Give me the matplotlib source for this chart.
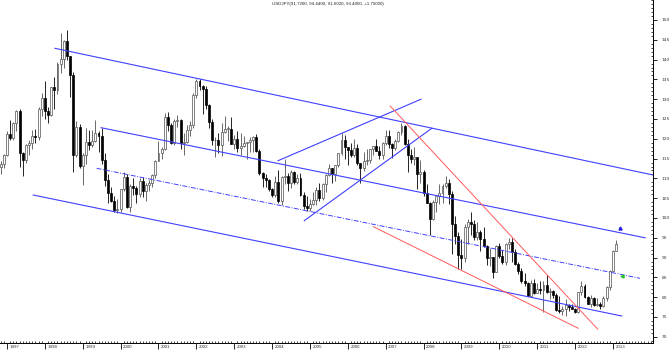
import numpy as np
import matplotlib
matplotlib.use('Agg')
import matplotlib.pyplot as plt
from matplotlib.ticker import MultipleLocator, FixedLocator, NullFormatter

# Monthly USD/JPY bars, Nov 1996 .. Feb 2013 (month 0 = Jan 1997)
first_month = -2
opens = [
    113.0, 113.6,
    115.9, 121.3, 120.3, 123.9, 126.9, 116.3, 114.6, 118.5, 118.9, 120.8, 120.4, 127.6,
    130.4, 127.0, 126.1, 133.0, 132.2, 138.9, 140.2, 144.6, 140.8, 136.0, 116.0, 123.0,
    113.2, 116.0, 119.2, 118.5, 119.4, 121.5, 120.7, 114.6, 109.6, 106.2, 104.4, 102.1,
    102.2, 107.3, 110.3, 102.9, 108.1, 107.6, 106.1, 109.4, 106.7, 108.3, 108.8, 110.9,
    114.4, 116.4, 117.3, 125.5, 123.6, 118.9, 124.6, 124.8, 118.9, 119.3, 122.1, 123.4,
    131.0, 134.7, 133.4, 132.7, 128.5, 124.2, 119.6, 119.8, 118.4, 121.8, 122.5, 122.5,
    118.7, 119.9, 117.6, 118.1, 119.0, 119.2, 119.8, 120.4, 116.8, 111.4, 110.0, 109.5,
    107.2, 105.9, 109.1, 104.3, 110.3, 110.5, 108.8, 111.6, 109.2, 110.2, 105.8, 103.1,
    102.6, 103.6, 104.6, 107.1, 105.0, 108.5, 110.9, 112.5, 111.2, 113.5, 116.4, 119.7,
    117.9, 117.2, 115.9, 117.8, 113.9, 112.6, 114.4, 114.6, 117.3, 118.1, 116.9, 115.8,
    119.0, 120.7, 118.6, 117.8, 119.5, 121.7, 123.2, 118.6, 115.9, 114.8, 115.3, 111.2,
    111.7, 106.4, 103.9, 99.7, 104.0, 105.5, 106.2, 108.0, 108.8, 106.1, 98.5, 95.5,
    90.6, 89.9, 97.6, 98.9, 98.6, 95.3, 96.4, 94.7, 93.0, 89.8, 90.1, 86.3,
    93.0, 90.3, 88.9, 93.4, 94.0, 91.3, 88.4, 86.5, 84.2, 83.5, 80.4, 83.7,
    81.1, 82.0, 81.8, 83.1, 81.2, 81.5, 80.5, 76.7, 76.6, 77.0, 78.0, 77.6,
    76.9, 76.2, 81.2, 82.9, 80.0, 78.3, 79.8, 78.1, 78.4, 77.9, 79.8, 82.5,
    86.7, 91.72,
]
highs = [
    114.5, 116.2,
    122.0, 124.8, 124.3, 127.2, 127.5, 116.6, 118.6, 119.6, 122.2, 122.4, 128.0, 131.6,
    134.5, 128.0, 133.2, 135.6, 139.4, 146.8, 145.0, 147.6, 141.0, 136.9, 124.4, 123.8,
    116.4, 122.7, 122.1, 122.3, 124.7, 122.0, 122.6, 116.3, 111.2, 107.8, 105.6, 104.7,
    107.4, 111.6, 111.0, 108.5, 110.1, 108.2, 110.0, 110.3, 108.9, 109.5, 111.1, 114.6,
    119.4, 117.9, 126.6, 126.8, 124.1, 125.0, 126.0, 125.0, 121.4, 123.6, 124.6, 131.6,
    135.2, 135.0, 133.7, 133.4, 128.9, 125.0, 120.5, 121.5, 124.0, 125.7, 123.3, 125.6,
    121.0, 121.9, 121.5, 120.6, 119.3, 120.5, 120.8, 121.3, 117.4, 111.5, 111.0, 109.8,
    107.5, 110.6, 112.2, 110.5, 114.9, 111.4, 112.2, 111.8, 111.2, 111.4, 106.5, 105.6,
    104.7, 106.6, 107.8, 108.8, 108.8, 111.1, 113.7, 112.7, 113.5, 116.4, 121.4, 121.0,
    118.0, 119.0, 119.9, 118.7, 113.9, 116.7, 117.4, 117.4, 118.3, 119.9, 118.3, 119.2,
    122.2, 122.2, 119.0, 120.0, 122.0, 124.1, 123.6, 119.9, 117.3, 117.9, 115.4, 114.7,
    112.0, 108.5, 104.0, 104.6, 105.5, 108.6, 108.6, 110.7, 109.8, 106.7, 100.5, 96.5,
    94.6, 98.6, 99.7, 101.4, 99.6, 98.9, 97.0, 97.8, 93.3, 92.3, 90.1, 93.1,
    93.7, 91.9, 93.8, 94.9, 94.9, 92.2, 88.9, 87.4, 86.1, 83.9, 84.4, 84.5,
    83.7, 84.0, 84.0, 85.5, 82.2, 81.7, 81.1, 80.2, 77.8, 79.5, 78.3, 78.3,
    77.3, 81.3, 84.2, 83.3, 80.4, 80.6, 80.1, 79.7, 78.9, 80.3, 82.8, 86.8,
    91.8, 94.44,
]
lows = [
    111.0, 112.6,
    115.6, 119.8, 119.6, 122.0, 113.0, 110.6, 114.0, 115.9, 117.4, 118.9, 119.8, 125.7,
    125.1, 124.1, 125.8, 127.4, 131.4, 136.7, 137.8, 139.8, 130.5, 111.6, 115.4, 112.6,
    108.3, 113.6, 117.2, 117.9, 119.3, 116.6, 113.6, 108.2, 103.7, 104.1, 101.5, 101.3,
    101.4, 106.8, 102.6, 101.4, 105.8, 103.9, 105.4, 105.3, 104.2, 106.9, 107.7, 110.0,
    114.3, 114.9, 117.2, 121.9, 118.6, 118.4, 123.0, 117.3, 115.8, 119.0, 120.6, 122.6,
    130.2, 132.3, 126.3, 127.5, 122.6, 118.4, 115.5, 116.5, 115.6, 121.5, 119.5, 118.6,
    117.5, 116.6, 115.9, 117.9, 115.0, 116.7, 116.6, 116.7, 110.8, 107.9, 107.9, 106.8,
    105.2, 105.4, 103.8, 103.4, 108.6, 106.7, 107.6, 108.5, 108.7, 105.6, 102.2, 101.8,
    101.7, 103.3, 103.2, 104.2, 104.5, 106.6, 110.5, 108.8, 109.3, 113.0, 116.0, 114.8,
    113.4, 115.5, 115.5, 113.3, 108.9, 111.8, 113.4, 114.0, 115.8, 116.8, 114.9, 115.0,
    118.5, 117.6, 115.2, 117.1, 119.2, 120.9, 118.4, 111.6, 113.8, 113.3, 107.2, 108.9,
    105.5, 103.8, 95.8, 99.6, 101.4, 103.6, 103.8, 107.6, 103.5, 90.9, 93.5, 87.1,
    87.1, 88.9, 93.5, 95.8, 94.5, 94.4, 91.7, 92.6, 88.2, 88.0, 84.8, 86.3,
    89.8, 88.5, 88.1, 92.2, 89.0, 88.2, 85.9, 83.6, 82.9, 80.4, 80.3, 80.9,
    81.1, 80.9, 76.3, 81.1, 79.6, 79.7, 76.6, 75.9, 75.6, 75.3, 76.6, 76.9,
    76.0, 76.1, 80.6, 79.8, 78.2, 77.6, 77.9, 77.9, 77.1, 77.6, 79.1, 81.7,
    86.5, 91.60,
]
closes = [
    113.6, 115.9,
    121.3, 120.3, 123.9, 126.9, 116.3, 114.6, 118.5, 118.9, 120.8, 120.4, 127.6, 130.4,
    127.0, 126.1, 133.0, 132.2, 138.9, 140.2, 144.6, 140.8, 136.0, 116.0, 123.0, 113.2,
    116.0, 119.2, 118.5, 119.4, 121.5, 120.7, 114.6, 109.6, 106.2, 104.4, 102.1, 102.2,
    107.3, 110.3, 102.9, 108.1, 107.6, 106.1, 109.4, 106.7, 108.3, 108.8, 110.9, 114.4,
    116.4, 117.3, 125.5, 123.6, 118.9, 124.6, 124.8, 118.9, 119.3, 122.1, 123.4, 131.0,
    134.7, 133.4, 132.7, 128.5, 124.2, 119.6, 119.8, 118.4, 121.8, 122.5, 122.5, 118.7,
    119.9, 117.6, 118.1, 119.0, 119.2, 119.8, 120.4, 116.8, 111.4, 110.0, 109.5, 107.2,
    105.9, 109.1, 104.3, 110.3, 110.5, 108.8, 111.6, 109.2, 110.2, 105.8, 103.1, 102.6,
    103.6, 104.6, 107.1, 105.0, 108.5, 110.9, 112.5, 111.2, 113.5, 116.4, 119.7, 117.9,
    117.2, 115.9, 117.8, 113.9, 112.6, 114.4, 114.6, 117.3, 118.1, 116.9, 115.8, 119.0,
    120.7, 118.6, 117.8, 119.5, 121.7, 123.2, 118.6, 115.9, 114.8, 115.3, 111.2, 111.7,
    106.4, 103.9, 99.7, 104.0, 105.5, 106.2, 108.0, 108.8, 106.1, 98.5, 95.5, 90.6,
    89.9, 97.6, 98.9, 98.6, 95.3, 96.4, 94.7, 93.0, 89.8, 90.1, 86.3, 93.0,
    90.3, 88.9, 93.4, 94.0, 91.3, 88.4, 86.5, 84.2, 83.5, 80.4, 83.7, 81.1,
    82.0, 81.8, 83.1, 81.2, 81.5, 80.5, 76.7, 76.6, 77.0, 78.0, 77.6, 76.9,
    76.2, 81.2, 82.9, 80.0, 78.3, 79.8, 78.1, 78.4, 77.9, 79.8, 82.5, 86.7,
    91.7, 93.40,
]
years = list(range(1997, 2014))
title = 'USDJPY(91.7200, 94.4400, 91.6020, 93.4000, +1.75000)'

# hand drawn trend lines: (month, price) -> (month, price)
blue_lines = [
    ((15.2, 142.85), (204.7, 110.86)),
    ((29.8, 122.8), (202.2, 95.0)),
    ((8.3, 105.8), (194.8, 75.25)),
    ((85.9, 114.47), (131.2, 130.0)),
    ((94.2, 99.32), (134.6, 122.65)),
]
dashdot_line = ((28.4, 112.55), (200.6, 84.77))
red_lines = [
    ((121.4, 128.3), (187.2, 71.9)),
    ((116.1, 97.8), (181.0, 72.15)),
]
blue_mark = (194.2, 97.4)
green_mark = (194.8, 85.35)

o = np.array(opens)
h = np.array(highs)
l = np.array(lows)
c = np.array(closes)
x = np.arange(len(o)) + first_month

fig = plt.figure(figsize=(6.7, 3.5), dpi=100)
ax = fig.add_axes([0, 7 / 350, 653 / 670, 343 / 350])
plt.rcParams['font.family'] = 'Liberation Sans'

up = c >= o
body_lo = np.minimum(o, c)
body_h = np.maximum(np.abs(c - o), 0.15)

ax.vlines(x[up], l[up], h[up], color='#505050', lw=0.6, zorder=2)
ax.vlines(x[~up], l[~up], h[~up], color='black', lw=0.6, zorder=2)
ax.bar(x[up], body_h[up], bottom=body_lo[up], width=0.62,
       facecolor='white', edgecolor='#505050', lw=0.5, zorder=3)
ax.bar(x[~up], body_h[~up], bottom=body_lo[~up], width=0.62,
       facecolor='black', edgecolor='black', lw=0.5, zorder=3)

for (x0, y0), (x1, y1) in blue_lines:
    ax.plot([x0, x1], [y0, y1], color='#4040ff', lw=0.8, zorder=4)
(x0, y0), (x1, y1) = dashdot_line
ax.plot([x0, x1], [y0, y1], color='#4040ff', lw=0.7,
        linestyle=(0, (5, 1.5, 1, 1.5)), zorder=4)
for (x0, y0), (x1, y1) in red_lines:
    ax.plot([x0, x1], [y0, y1], color='#ff5a5a', lw=0.7, zorder=4)

ax.plot(*blue_mark, marker='^', ms=2.2, color='#2020e0', zorder=5)
ax.plot(*green_mark, marker='<', ms=2.2, color='#30c030', zorder=5)

ax.set_xlim(-7 / 3.156, first_month + 206.7)
ax.set_ylim(68.43, 155.05)

for s in ['top', 'left']:
    ax.spines[s].set_visible(False)
for s in ['bottom', 'right']:
    ax.spines[s].set_linewidth(0.7)

# x axis: year ticks pointing down, month ticks pointing up
ax.xaxis.set_major_locator(FixedLocator([12 * (yr - 1997) for yr in years]))
ax.xaxis.set_minor_locator(MultipleLocator(1))
ax.xaxis.set_major_formatter(NullFormatter())
ax.tick_params(axis='x', which='major', direction='out', length=4, width=0.6)
ax.tick_params(axis='x', which='minor', direction='in', length=1.5, width=0.5)
tr = ax.get_xaxis_transform()
for yr in years:
    ax.text(12 * (yr - 1997) + 0.8, -0.006, str(yr), transform=tr,
            fontsize=3.2, ha='left', va='top', color='#333333')

# y axis on the right
ax.yaxis.tick_right()
ax.yaxis.set_major_locator(MultipleLocator(5))
ax.yaxis.set_minor_locator(MultipleLocator(1))
ax.tick_params(axis='y', which='major', direction='out', length=3, width=0.6,
               pad=3, labelsize=3.2, labelcolor='#333333')
ax.tick_params(axis='y', which='minor', direction='in', length=1.5, width=0.5)
ax.set_yticks(np.arange(70, 151, 5))

fig.text(272 / 670, 1 - 4 / 350, title, fontsize=3.2, ha='left', va='center',
         color='#222222')

fig.savefig('out.png', dpi=100)
